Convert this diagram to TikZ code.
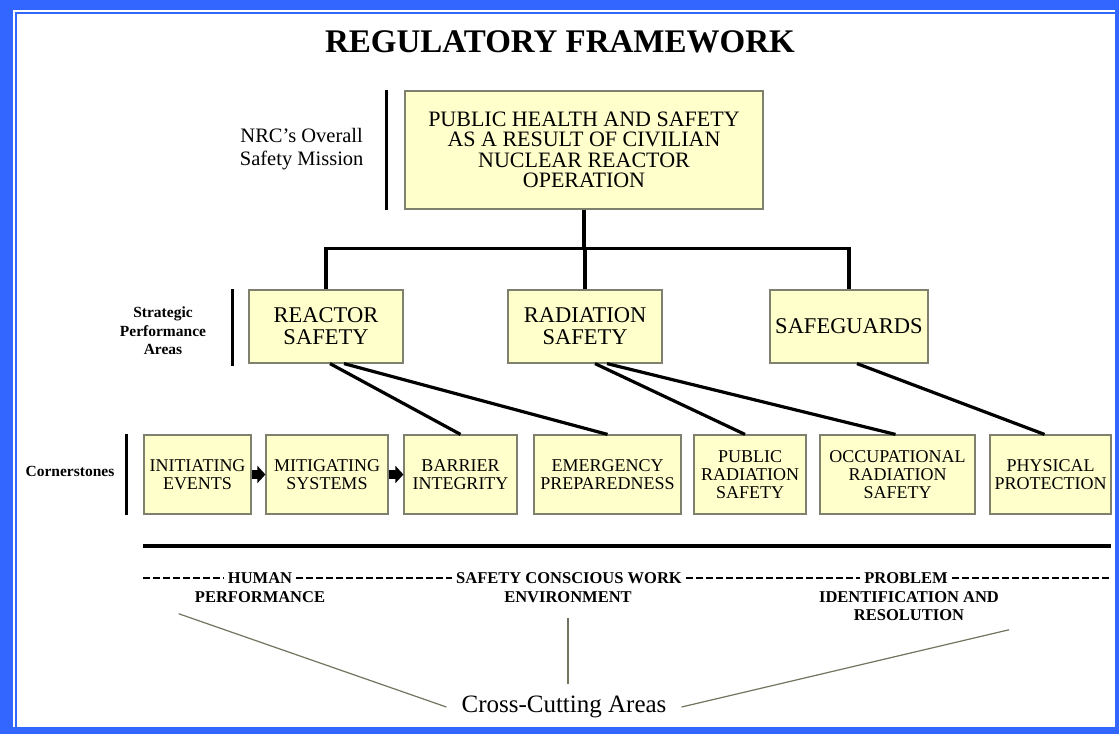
\documentclass[tikz,border=0pt]{standalone}
\usepackage{fontspec}
\setmainfont{Liberation Serif}
\usepackage{xcolor}
\usepackage{tikz}
\usetikzlibrary{arrows.meta, positioning}
\definecolor{frameblue}{RGB}{51,102,255}
\definecolor{boxfill}{RGB}{255,255,204}
\definecolor{boxline}{RGB}{128,128,110}
\definecolor{legline}{RGB}{115,115,95}
\newcommand{\pxfont}[2]{\fontsize{#1}{#2}\selectfont}
\tikzstyle{tree} = [line width=3.5pt, black]
\tikzstyle{bar} = [line width=3pt, black]
\tikzstyle{link} = [line width=3.2pt, black]

\begin{document}
\begin{tikzpicture}[x=1pt, y=-1pt,
		box/.style={rectangle, draw=boxline, fill=boxfill, line width=1.2pt, align=center, inner sep=0pt},
		missionbox/.style={box, minimum width=358pt, minimum height=118pt, font=\pxfont{22}{20.5}},
		spabox/.style={box, minimum width=154pt, minimum height=73pt, font=\pxfont{22.5}{22}},
		cornerbox/.style={box, minimum height=79pt, font=\pxfont{18}{18}},
		sidelabel/.style={align=center, font=\bfseries\pxfont{15.5}{18.5}},
		cut/.style={align=center, inner sep=4pt, font=\bfseries\pxfont{16.5}{18}},
		cutline/.style={dash pattern=on 7pt off 3pt, line width=2.4pt},
		flowarrow/.style={line width=8.5pt, -{Triangle[length=8pt,width=17pt]}},
		leg/.style={line width=1.2pt, legline}]
		
		\useasboundingbox (0,0) rectangle (1119,734);
		% frame
		\fill[frameblue] (0,0) rectangle (1119,734);
		\fill[white] (13.3,10) rectangle (1115,727);
		\draw[frameblue, line width=2pt] (16.2,12.5) rectangle (1116,728);
		
		\node (title) at (560,42) [font=\bfseries\pxfont{33}{33}] {REGULATORY FRAMEWORK};
		
		% mission
		\node (mission) [missionbox] at (584,150) {PUBLIC HEALTH AND SAFETY\\AS A RESULT OF CIVILIAN\\NUCLEAR REACTOR\\OPERATION};
		\node (missionlbl) at (367,149) [anchor=east, align=center, font=\pxfont{20.5}{23}] {NRC’s Overall\\Safety Mission};
		\draw[bar] ([xshift=-18pt]mission.north west) -- ([xshift=-18pt]mission.south west);
		
		% strategic performance areas
		\node (reactor) [spabox] at (326,326.5) {REACTOR\\SAFETY};
		\node (radiation) [spabox] at (585,326.5) {RADIATION\\SAFETY};
		\node (safeguards) [spabox, minimum width=158pt] at (849,326.5) {SAFEGUARDS};
		\node (spalbl) at (163,331) [sidelabel] {Strategic\\Performance\\Areas};
		\draw[bar] ([xshift=-16pt]reactor.north west) -- ([xshift=-16pt,yshift=-2pt]reactor.south west);
		
		\draw[tree] (mission.south) -- ++(0,39) coordinate (fork);
		\draw[tree] (reactor.north) |- (fork) -| (safeguards.north);
		\draw[tree] (radiation.north) -- (radiation.north |- fork);
		
		% cornerstones
		\node (initiating) [cornerbox, minimum width=107pt] at (197.5,474.5) {INITIATING\\EVENTS};
		\node (mitigating) [cornerbox, minimum width=122pt] at (327,474.5) {MITIGATING\\SYSTEMS};
		\node (barrier) [cornerbox, minimum width=113pt] at (460.5,474.5) {BARRIER\\INTEGRITY};
		\node (emergency) [cornerbox, minimum width=147pt] at (607.5,474.5) {EMERGENCY\\PREPAREDNESS};
		\node (public) [cornerbox, minimum width=112pt] at (750,474.5) {PUBLIC\\RADIATION\\SAFETY};
		\node (occupational) [cornerbox, minimum width=155pt] at (897.5,474.5) {OCCUPATIONAL\\RADIATION\\SAFETY};
		\node (physical) [cornerbox, minimum width=121pt] at (1050.5,474.5) {PHYSICAL\\PROTECTION};
		\node (cornerlbl) at (70,471) [sidelabel] {Cornerstones};
		\draw[bar] ([xshift=-17pt]initiating.north west) -- ([xshift=-17pt]initiating.south west);
		
		\draw[flowarrow] (initiating) -- (mitigating);
		\draw[flowarrow] (mitigating) -- (barrier);
		
		\draw[link] ([xshift=4pt]reactor.south) -- (barrier.north);
		\draw[link] ([xshift=18pt]reactor.south) -- (emergency.north);
		\draw[link] ([xshift=10pt]radiation.south) -- ([xshift=-5pt]public.north);
		\draw[link] ([xshift=22pt]radiation.south) -- ([xshift=-2pt]occupational.north);
		\draw[link] ([xshift=8pt]safeguards.south) -- ([xshift=-6pt]physical.north);
		
		% cross-cutting areas
		\draw[line width=4pt] (143,546) -- (1111,546);
		\coordinate (cutL) at (143,578);
		\coordinate (cutR) at (1111,578);
		\node (human) [cut] at (260,578) {HUMAN};
		\node (humanb) [cut] at (260,597) {PERFORMANCE};
		\node (scw) [cut] at (569,578) {SAFETY CONSCIOUS WORK};
		\node (scwb) [cut] at (568,597) {ENVIRONMENT};
		\node (problem) [cut] at (906,578) {PROBLEM};
		\node (problemb) [cut] at (909,606) {IDENTIFICATION AND\\RESOLUTION};
		\draw[cutline] (cutL) -- (human);
		\draw[cutline] (human) -- (scw);
		\draw[cutline] (scw) -- (problem);
		\draw[cutline] (problem) -- (cutR);
		
		\node (cross) [font=\pxfont{25}{25}, inner xsep=15pt, inner ysep=12pt] at (564,707) {Cross-Cutting Areas};
		\draw[leg] ([shift={(-12,7)}]humanb.south west) -- (cross.west);
		\draw[leg] ([shift={(0,11)}]scwb.south) -- (scwb.south |- cross.north);
		\draw[leg] (cross.east) -- ([shift={(6,5)}]problemb.south east);
	\end{tikzpicture}
\end{document}
